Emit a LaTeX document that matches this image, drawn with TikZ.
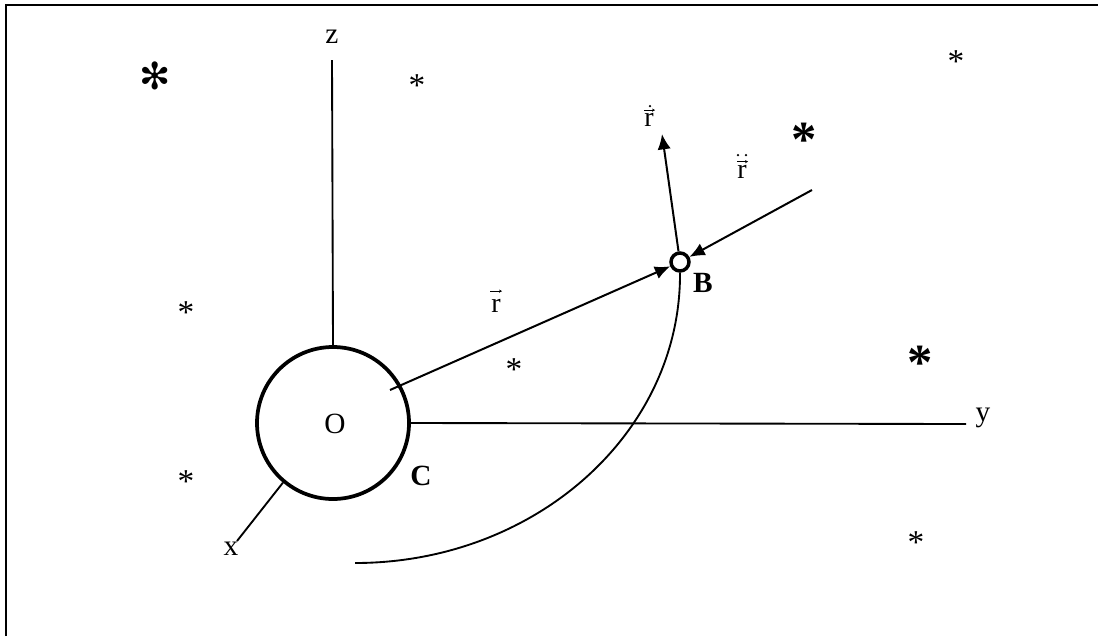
\documentclass[tikz,border=0pt]{standalone}
\usepackage{fontspec}
\setmainfont{Liberation Serif}
\newfontfamily\dejavu{DejaVu Sans}
\usetikzlibrary{arrows.meta}
\begin{document}
\begin{tikzpicture}[x=0.75pt,y=-0.75pt,
  lbl/.style={inner sep=0pt,font=\fontsize{22}{26}\selectfont},
  rlbl/.style={inner sep=0pt,font=\fontsize{21}{24}\selectfont},
  blbl/.style={inner sep=0pt,font=\fontsize{22}{26}\selectfont\bfseries},
  star/.style={inner sep=0pt,font=\fontsize{25}{28}\selectfont},
  bigstar/.style={inner sep=0pt,font=\fontsize{38}{42}\selectfont\bfseries},
  teardrop/.style={inner sep=0pt,font=\fontsize{28}{32}\selectfont\dejavu},
  axis/.style={line width=1.4pt},
  vecarrow/.style={line width=1.5pt,-{Latex[length=11.5pt,width=10pt]}},
  accbar/.style={line width=0.7pt,-{Stealth[length=2.2pt,width=2.4pt]}},
  accdot/.style={fill,circle,inner sep=0pt,minimum size=2pt},
  thickc/.style={circle,draw,line width=2.8pt,inner sep=0pt}]
\useasboundingbox (0,0) rectangle (1098,636);
% frame
\coordinate (fbl) at (6,636);
\coordinate (ftl) at (6,5);
\coordinate (ftr) at (1098,5);
\draw[line width=1.8pt] (fbl) -- (ftl) -- (ftr);
% central body
\node[thickc,minimum size=114pt] (O) at (333,423) {};
\node[lbl] (Olbl) at (335,424) {O};
% axes
\coordinate (zend) at (332,60);
\coordinate (yend) at (966,424);
\coordinate (xend) at (237,541);
\draw[axis] (O.north) -- (zend);
\draw[axis] (O.east) -- (yend);
\draw[axis] (O.230) -- (xend);
\node[lbl] (zl) at (332,37) {z};
\node[lbl] (yl) at (983,418) {y};
\node[lbl] (xl) at (231,549) {x};
\node[blbl] (Cl) at (421,476) {C};
% body B
\node[circle,draw,line width=2.6pt,minimum size=13.5pt,inner sep=0pt] (B) at (680,262) {};
\node[blbl] (Bl) at (703,283) {B};
% vectors
\coordinate (rstart) at (390,390);
\coordinate (rdtip) at (662,134);
\coordinate (rddstart) at (812,190);
\draw[vecarrow] (rstart) -- (B);
\draw[vecarrow] (B) -- (rdtip);
\draw[vecarrow] (rddstart) -- (B);
% vector labels: r with accents drawn above
\node[rlbl] (rl) at (496,306) {r};
\draw[accbar] ([shift={(-6,-8)}]rl.north) -- ([shift={(6,-8)}]rl.north);
\node[rlbl] (rdl) at (649,120) {r};
\draw[accbar] ([shift={(-5,-3)}]rdl.north) -- ([shift={(6,-3)}]rdl.north);
\node[accdot] (rdd1) at ([shift={(1,-7)}]rdl.north) {};
\node[rlbl] (rddl) at (742,172) {r};
\draw[accbar] ([shift={(-5,-3.5)}]rddl.north) -- ([shift={(6,-3.5)}]rddl.north);
\node[accdot] (rdd2) at ([shift={(-4,-10)}]rddl.north) {};
\node[accdot] (rdd3) at ([shift={(4,-10)}]rddl.north) {};
% orbit arc
\coordinate (arcend) at (355,563);
\draw[line width=1.4pt] (B.south) .. controls (681,433) and (535,563) .. (arcend);
% stars
\node[teardrop] (s1) at (155,76) {✻};
\node[star] (s2) at (417,86) {*};
\node[star] (s3) at (956,62) {*};
\node[bigstar] (s4) at (804,140) {*};
\node[star] (s5) at (186,313) {*};
\node[star] (s6) at (514,370) {*};
\node[bigstar] (s7) at (920,363) {*};
\node[star] (s8) at (186,482) {*};
\node[star] (s9) at (916,543) {*};
\end{tikzpicture}
\end{document}
